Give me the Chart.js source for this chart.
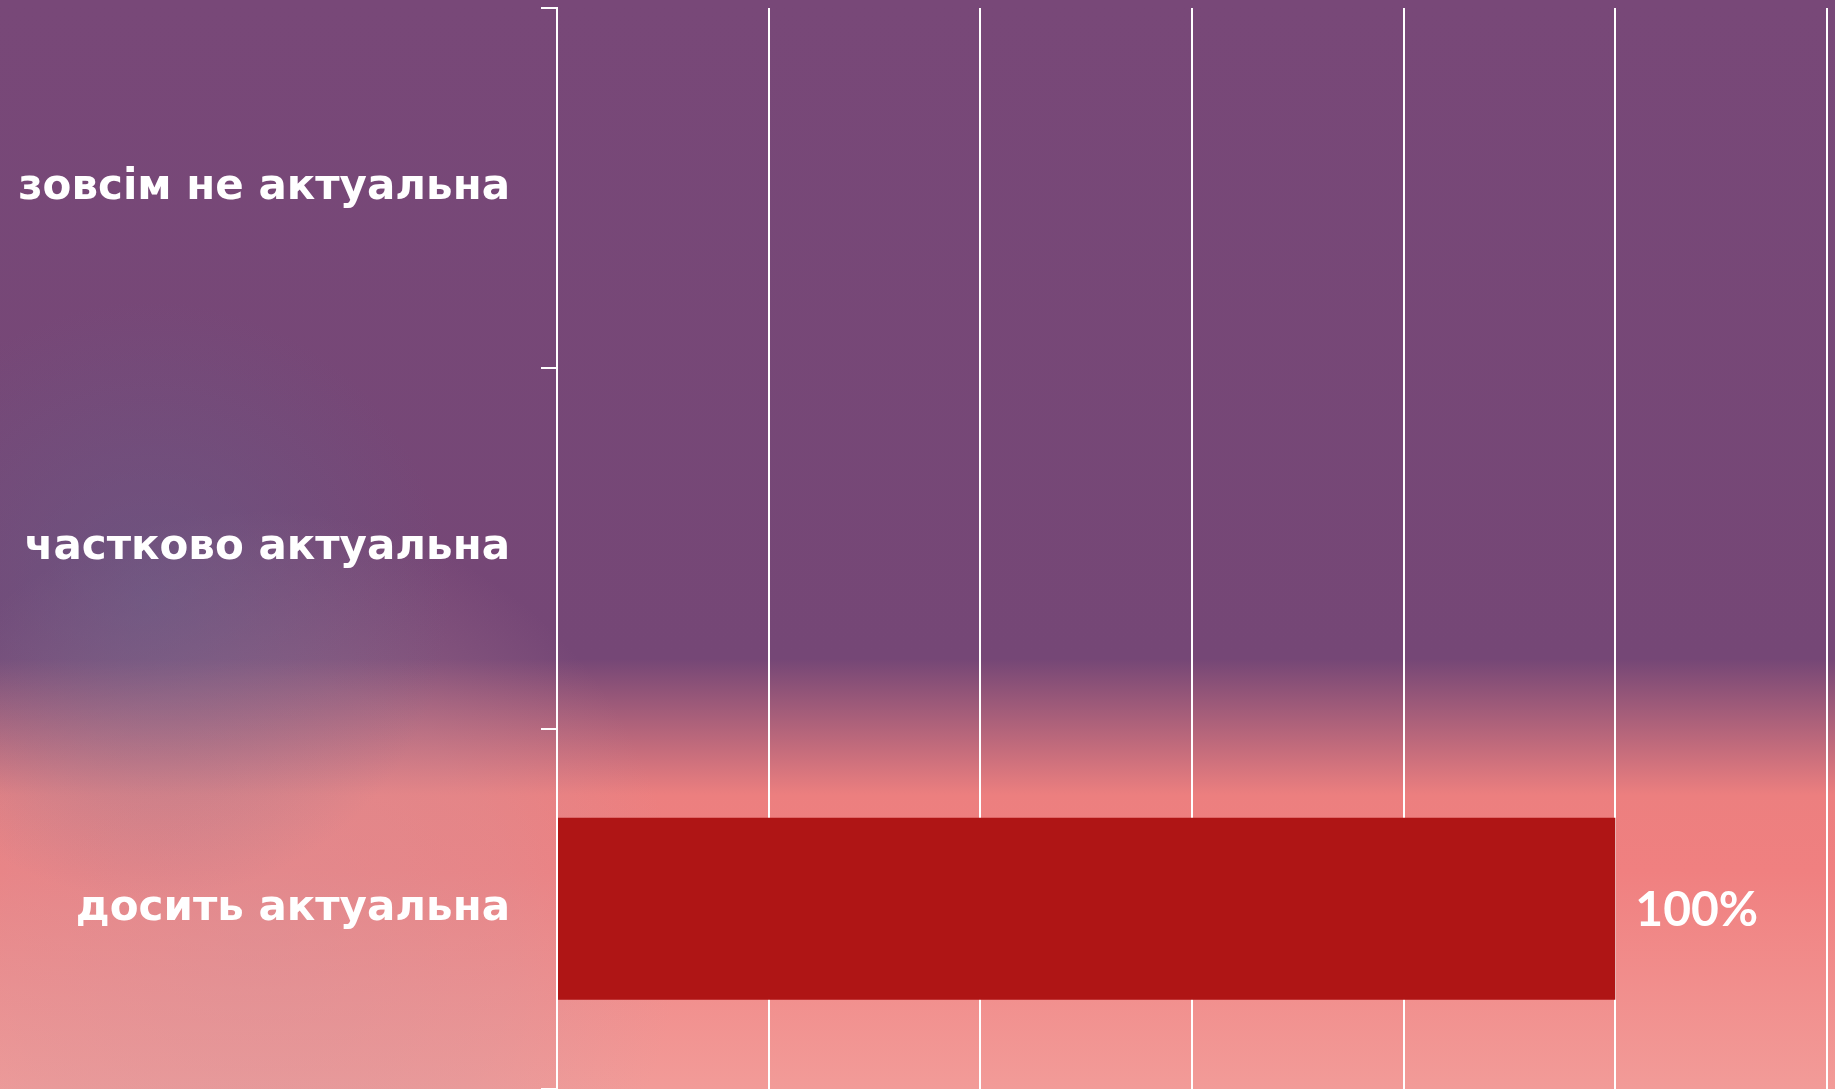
<!DOCTYPE html>
<html>
<head>
<meta charset="utf-8">
<script src="https://cdn.jsdelivr.net/npm/chart.js@4"></script>
<style>
  html, body { margin: 0; padding: 0; background: #784878; overflow: hidden; }
  #wrap { width: 1835px; height: 1089px; }
</style>
</head>
<body>
<div id="wrap"><canvas id="chart"></canvas></div>
<script>
// categories top to bottom
const categories = ['зовсім не актуальна', 'частково актуальна', 'досить актуальна'];
const shares = [0, 0, 100];
const xMax = 120;
const xStep = 20;

const labelFont = { family: 'DejaVu Sans', weight: 'bold', size: 42 };

// slide-like background: purple top, salmon bottom
const backdrop = {
  id: 'backdrop',
  beforeDraw(chart) {
    const { ctx, width, height } = chart;
    ctx.save();
    const g = ctx.createLinearGradient(0, 0, 0, height);
    g.addColorStop(0, '#784878');
    g.addColorStop(0.605, '#754776');
    g.addColorStop(0.73, '#ec7f7f');
    g.addColorStop(0.80, '#f08080');
    g.addColorStop(1, '#f29b98');
    ctx.fillStyle = g;
    ctx.fillRect(0, 0, width, height);
    // muted left side in the pink part
    const m = ctx.createRadialGradient(260, 930, 0, 260, 930, 420);
    m.addColorStop(0, 'rgba(205,150,160,0.4)');
    m.addColorStop(0.6, 'rgba(205,150,160,0.25)');
    m.addColorStop(1, 'rgba(205,150,160,0)');
    ctx.fillStyle = m;
    ctx.fillRect(0, 0, width, height);
    // bluish glow on the left
    const r = ctx.createRadialGradient(150, 600, 0, 150, 600, 300);
    r.addColorStop(0, 'rgba(100,100,140,0.45)');
    r.addColorStop(1, 'rgba(100,100,140,0)');
    ctx.fillStyle = r;
    ctx.fillRect(0, 0, width, height);
    ctx.restore();
  }
};

// value labels at the bar ends
const valueLabels = {
  id: 'valueLabels',
  afterDatasetsDraw(chart) {
    const { ctx } = chart;
    const meta = chart.getDatasetMeta(0);
    ctx.save();
    ctx.fillStyle = '#ffffff';
    ctx.font = 'bold 48px Lato';
    ctx.textAlign = 'left';
    ctx.textBaseline = 'middle';
    meta.data.forEach((bar, i) => {
      if (!shares[i]) return;
      ctx.fillText(shares[i] + '%', bar.x + 20, bar.y + 2);
    });
    ctx.restore();
  }
};

new Chart(document.getElementById('chart'), {
  type: 'bar',
  data: {
    labels: categories,
    datasets: [{
      data: shares,
      backgroundColor: '#af1515',
      borderWidth: 0,
      barPercentage: 0.505,
      categoryPercentage: 1
    }]
  },
  options: {
    indexAxis: 'y',
    responsive: true,
    maintainAspectRatio: false,
    animation: false,
    layout: { padding: { top: 8, right: 8, bottom: 0, left: 0 } },
    plugins: { legend: { display: false }, tooltip: { enabled: false } },
    scales: {
      x: {
        min: 0,
        max: xMax,
        afterFit(scale) { scale.height = 0; scale.paddingLeft = 0; scale.paddingRight = 0; },
        ticks: { display: false, stepSize: xStep },
        grid: { color: '#ffffff', lineWidth: 2, drawTicks: false },
        border: { display: false }
      },
      y: {
        afterFit(scale) {
          scale.width = 557;
          scale.paddingTop = 0;
          scale.paddingBottom = 0;
        },
        ticks: { color: '#ffffff', font: labelFont, padding: 31 },
        grid: { color: '#ffffff', lineWidth: 2, drawOnChartArea: false, tickLength: 16, offset: true },
        border: { color: '#ffffff', width: 2 }
      }
    }
  },
  plugins: [backdrop, valueLabels]
});
</script>
</body>
</html>
